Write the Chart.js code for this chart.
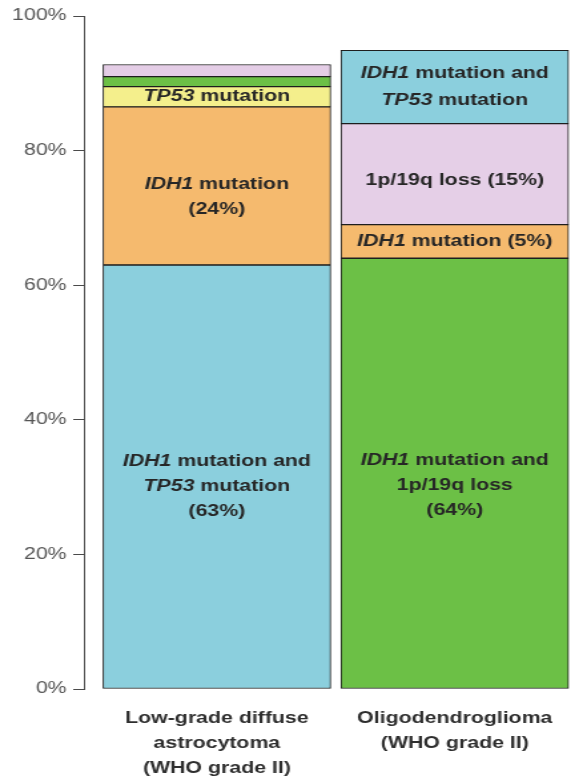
<!DOCTYPE html>
<html><head><meta charset="utf-8">
<script src="https://cdn.jsdelivr.net/npm/chart.js@4"></script>
<style>html,body{margin:0;padding:0;background:#fff;overflow:hidden}
#c{display:block;width:575px;height:778px}</style>
</head><body>
<canvas id="c" width="432" height="778" style="width:575px;height:778px"></canvas>
<script>
// ---- data ----
const categories = [['Low-grade diffuse', 'astrocytoma', '(WHO grade II)'], ['Oligodendroglioma', '(WHO grade II)']];
const categoryIndex = [1, 2];
const yTicks = [0, 20, 40, 60, 80, 100];
// stacked segments, bottom to top
const astrocytomaSegments = ['IDH1 + TP53', 'IDH1', 'TP53', 'minor A', 'minor B'];
const astrocytomaValues = [63, 23.5, 3, 1.5, 1.8];
const oligoSegments = ['IDH1 + 1p/19q', 'IDH1', '1p/19q', 'IDH1 + TP53'];
const oligoValues = [64, 5, 15, 10.9];
// segment texts ("*...*" = italic gene name)
const astrocytomaTexts = [['*IDH1* mutation and', '*TP53* mutation', '(63%)'], ['*IDH1* mutation', '(24%)'], ['*TP53* mutation'], null, null];
const oligoTexts = [['*IDH1* mutation and', '1p/19q loss', '(64%)'], ['*IDH1* mutation (5%)'], ['1p/19q loss (15%)'], ['*IDH1* mutation and', '*TP53* mutation']];

// ---- styles ----
const segColors = {
  'IDH1 + TP53': '#8bcfdd',
  'IDH1': '#f5ba6e',
  'TP53': '#f4ef8c',
  'minor A': '#6cc046',
  'minor B': '#e4cde6',
  'IDH1 + 1p/19q': '#6cc046',
  '1p/19q': '#e5cfe7'
};
const textOffsets = { '1-0': 10, '1-1': 11, '1-2': 0, '2-0': 12, '2-1': 0, '2-2': 6, '2-3': 0 };
const FONT = '"Liberation Sans", Arial, sans-serif';

const groups = [
  { idx: categoryIndex[0], names: astrocytomaSegments, values: astrocytomaValues, texts: astrocytomaTexts },
  { idx: categoryIndex[1], names: oligoSegments, values: oligoValues, texts: oligoTexts }
];
const levels = Math.max(astrocytomaValues.length, oligoValues.length);
const datasets = [];
for (let i = 0; i < levels; i++) {
  const data = [], bg = [], texts = [];
  groups.forEach(g => {
    if (g.values[i] != null) {
      data.push({ x: g.idx, y: g.values[i] });
      bg.push(segColors[g.names[i]]);
      texts.push(g.texts[i]);
    }
  });
  datasets.push({
    label: 'level ' + (i + 1), data, backgroundColor: bg, texts,
    borderColor: '#1e1e1e', borderWidth: 1, borderSkipped: false,
    barThickness: 171
  });
}

const segmentText = {
  id: 'segmentText',
  afterDatasetsDraw(chart) {
    const ctx = chart.ctx;
    ctx.save();
    ctx.textBaseline = 'middle';
    ctx.fillStyle = '#262626';
    chart.data.datasets.forEach((ds, di) => {
      const meta = chart.getDatasetMeta(di);
      meta.data.forEach((el, pi) => {
        const lines = ds.texts[pi];
        if (!lines) return;
        const key = ds.data[pi].x + '-' + di;
        const dy = textOffsets[key] || 0;
        const lh = key === '2-3' ? 27 : 25;
        const cy = (el.y + el.base) / 2 + dy;
        const y0 = cy - (lines.length - 1) * lh / 2;
        lines.forEach((line, li) => {
          const parts = [];
          line.split(/(\*[^*]+\*)/).forEach(p => {
            if (!p) return;
            if (p[0] === '*') parts.push({ t: p.slice(1, -1), f: 'italic bold 16px ' + FONT });
            else parts.push({ t: p, f: 'bold 16px ' + FONT });
          });
          let w = 0;
          parts.forEach(p => { ctx.font = p.f; p.w = ctx.measureText(p.t).width; w += p.w; });
          let x = el.x - w / 2;
          ctx.textAlign = 'left';
          parts.forEach(p => { ctx.font = p.f; ctx.fillText(p.t, x, y0 + li * lh); x += p.w; });
        });
      });
    });
    ctx.restore();
  }
};

new Chart(document.getElementById('c'), {
  type: 'bar',
  data: { datasets },
  plugins: [segmentText],
  options: {
    responsive: false,
    animation: false,
    layout: { padding: { top: 16, right: 0, bottom: 0, left: 0 } },
    plugins: { legend: { display: false }, tooltip: { enabled: false } },
    scales: {
      x: {
        type: 'linear', stacked: true, offset: false, min: 0.4409, max: 2.4875,
        grid: { display: false, drawTicks: false, offset: false }, border: { display: false },
        afterBuildTicks: s => { s.ticks = categoryIndex.map(v => ({ value: v })); },
        afterFit: s => { s.height = 89; },
        ticks: {
          autoSkip: false, maxRotation: 0, padding: 17, color: '#2e2e2e',
          font: { family: FONT, size: 16, weight: 'bold', lineHeight: 1.5625 },
          callback: v => categories[categoryIndex.indexOf(v)]
        }
      },
      y: {
        stacked: true, min: 0, max: 100,
        grid: { drawOnChartArea: false, drawTicks: true, tickLength: 8, color: '#4a4a4a', lineWidth: 1 },
        border: { display: true, color: '#4a4a4a', width: 1 },
        afterBuildTicks: s => { s.ticks = yTicks.map(v => ({ value: v })); },
        afterFit: s => { s.width = 63; },
        ticks: {
          padding: 5, color: '#555555',
          font: { family: FONT, size: 16 },
          callback: v => v + '%'
        }
      }
    }
  }
});
</script>
</body></html>
